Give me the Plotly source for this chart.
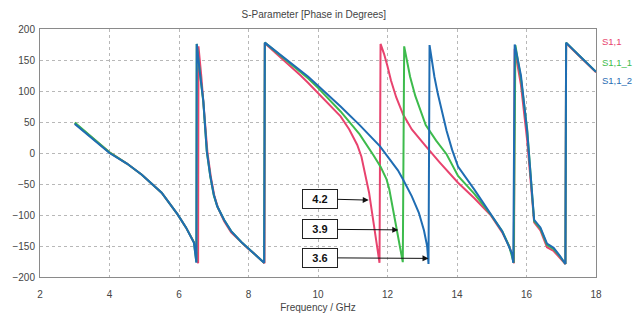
import plotly.graph_objects as go

# ---- data ----
# S1,1 (red)
s11_f = [3.0, 3.5, 4.0, 4.5, 4.93, 5.5, 5.96, 6.2, 6.45, 6.55,
         6.56, 6.64, 6.72, 6.82, 6.92, 7.02, 7.12, 7.3, 7.5, 7.8, 8.0, 8.2, 8.46,
         8.47, 9.0, 9.5, 9.72, 10.0, 10.3, 10.65, 10.9, 11.13, 11.25, 11.38, 11.47,
         11.55, 11.63, 11.69, 11.77,
         11.8, 11.9, 12.0, 12.1, 12.25, 12.45, 12.7, 12.93, 13.1, 13.5, 14.03,
         14.5, 14.98, 15.3, 15.5, 15.6, 15.64,
         15.66, 15.72, 15.84, 16.02, 16.22, 16.4, 16.59, 16.78, 16.95, 17.12,
         17.14, 17.5, 18.0]
s11_p = [48, 25, 1, -17, -35, -64, -99, -120, -146, -178,
         172, 125, 75, 0, -40, -70, -88, -110, -128, -145, -155, -164, -178,
         177, 151, 125, 113, 97, 80, 59, 38, 13, -6, -38, -64,
         -94, -124, -150, -177,
         176, 160, 140, 117, 90, 62, 38, 22, 11, -15, -48,
         -73, -101, -128, -150, -166, -178,
         168, 150, 110, 20, -112, -125, -152, -158, -168, -179,
         177, 157, 130]

# S1,1_1 (green)
s111_f = [3.0, 3.5, 4.0, 4.5, 4.93, 5.5, 5.96, 6.2, 6.43, 6.5,
          6.51, 6.6, 6.7, 6.8, 6.9, 7.0, 7.1, 7.3, 7.5, 7.8, 8.0, 8.2, 8.45,
          8.47, 9.0, 9.72, 10.0, 10.65, 11.2, 11.4, 11.6, 11.8, 11.97, 12.05,
          12.11, 12.18, 12.25, 12.32, 12.38, 12.44,
          12.48, 12.58, 12.65, 12.8, 12.93, 13.1, 13.4, 13.7, 14.03, 14.5, 14.98,
          15.3, 15.5, 15.6, 15.63,
          15.68, 15.72, 15.84, 16.02, 16.22, 16.4, 16.59, 16.78, 16.95, 17.12,
          17.14, 17.5, 18.0]
s111_p = [49, 25, 1, -17, -35, -64, -99, -120, -144, -176,
          176, 130, 82, 2, -38, -68, -86, -108, -126, -144, -154, -163, -177,
          178, 154, 120, 105, 67, 30, 14, -4, -22, -42, -58,
          -76, -98, -121, -144, -162, -176,
          172, 145, 123, 92, 70, 45, 20, -2, -37, -66, -100,
          -126, -150, -168, -177,
          174, 160, 120, 38, -110, -122, -148, -155, -166, -179,
          178, 158, 131]

# S1,1_2 (blue)
s112_f = [3.0, 3.5, 4.0, 4.5, 4.93, 5.5, 5.96, 6.2, 6.43, 6.5,
          6.51, 6.6, 6.7, 6.8, 6.9, 7.0, 7.1, 7.3, 7.5, 7.8, 8.0, 8.2, 8.45,
          8.47, 9.0, 9.72, 10.65, 11.2, 11.78, 12.1, 12.3, 12.44, 12.7, 12.9,
          13.05, 13.14, 13.18,
          13.21, 13.27, 13.35, 13.45, 13.57, 13.7, 13.86, 14.03, 14.5, 14.98,
          15.3, 15.58, 15.62,
          15.66, 15.72, 15.84, 16.02, 16.22, 16.4, 16.59, 16.78, 16.95, 17.12,
          17.14, 17.5, 18.0]
s112_p = [47, 24, 0, -17, -35, -64, -99, -120, -145, -177,
          176, 130, 84, 3, -37, -67, -86, -108, -126, -144, -154, -163, -177,
          178, 155, 123, 75, 45, 11, -12, -28, -42, -70, -96,
          -125, -150, -179,
          174, 150, 123, 95, 64, 36, 5, -22, -59, -100,
          -126, -162, -177,
          175, 160, 125, 35, -108, -120, -146, -153, -165, -179,
          178, 158, 131]

series_names = ["S1,1", "S1,1_1", "S1,1_2"]
series_colors = ["#e8436e", "#3dbb4c", "#1f6db3"]

label_texts = ["4.2", "3.9", "3.6"]
label_box_x = [10.06, 10.06, 10.06]
label_box_y = [-74, -123, -169]
label_tip_x = [11.46, 12.31, 13.18]
label_tip_y = [-76, -124, -170]

x_ticks = [2, 4, 6, 8, 10, 12, 14, 16, 18]
y_ticks = [-200, -150, -100, -50, 0, 50, 100, 150, 200]

fig = go.Figure()
for f, p, name, col in [(s11_f, s11_p, series_names[0], series_colors[0]),
                        (s111_f, s111_p, series_names[1], series_colors[1]),
                        (s112_f, s112_p, series_names[2], series_colors[2])]:
    fig.add_trace(go.Scatter(x=f, y=p, mode="lines", name=name,
                             line=dict(color=col, width=2), showlegend=False))

font_main = "Liberation Sans, DejaVu Sans, sans-serif"

annotations = []
for t, bx, by, tx, ty in zip(label_texts, label_box_x, label_box_y, label_tip_x, label_tip_y):
    annotations.append(dict(
        x=tx, y=ty, ax=bx, ay=by, xref="x", yref="y", axref="x", ayref="y",
        text="<b>" + t + "</b>", showarrow=True, arrowhead=2, arrowsize=1.2,
        arrowwidth=1, arrowcolor="#111111",
        font=dict(family=font_main, size=11, color="#111111"),
        bordercolor="#222222", borderwidth=1, borderpad=3, bgcolor="white",
        width=28, height=12))

legend_y = [0.948, 0.866, 0.793]
for name, col, ly in zip(series_names, series_colors, legend_y):
    annotations.append(dict(
        x=1.0, y=ly, xref="paper", yref="paper", xanchor="left", yanchor="middle",
        xshift=4, text=name, showarrow=False,
        font=dict(family=font_main, size=9.5, color=col)))

fig.update_layout(
    width=634, height=323,
    margin=dict(l=26, r=38, t=29, b=45),
    paper_bgcolor="white", plot_bgcolor="white",
    title=dict(text="S-Parameter [Phase in Degrees]", x=0.495, xanchor="center",
               y=0.955, yanchor="middle",
               font=dict(family=font_main, size=10, color="#444444")),
    annotations=annotations,
    xaxis=dict(range=[2, 18], tickvals=x_ticks, showgrid=True,
               gridcolor="#b8b8b8", griddash="dot", gridwidth=1,
               showline=True, mirror=True, linecolor="#8a8a8a", linewidth=1,
               ticks="", zeroline=False, ticklabelstandoff=8,
               tickfont=dict(family=font_main, size=10, color="#444444"),
               title=dict(text="Frequency / GHz", standoff=4,
                          font=dict(family=font_main, size=10, color="#444444"))),
    yaxis=dict(range=[-200, 200], tickvals=y_ticks, showgrid=True,
               gridcolor="#b8b8b8", griddash="dot", gridwidth=1,
               showline=True, mirror=True, linecolor="#8a8a8a", linewidth=1,
               ticks="", zeroline=False, ticklabelstandoff=2,
               tickfont=dict(family=font_main, size=10, color="#444444")),
)

fig.write_html("out.html")
